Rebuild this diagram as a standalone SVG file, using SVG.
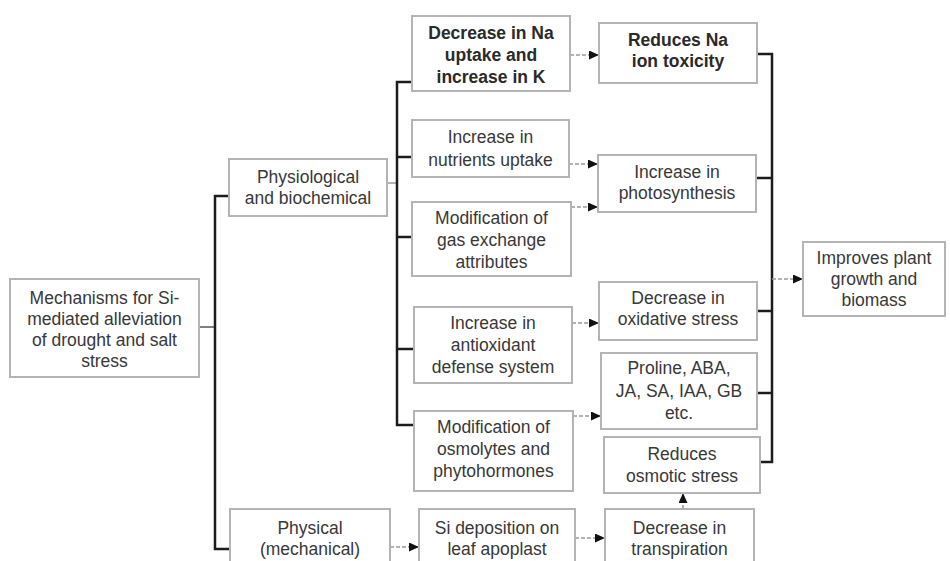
<svg xmlns="http://www.w3.org/2000/svg" width="950" height="561" viewBox="0 0 950 561">
<style>
.box{fill:#fff;stroke:#b4b4b4;stroke-width:2}
.t{font-family:"Liberation Sans",Arial,sans-serif;font-size:17.5px;fill:#383838;text-anchor:middle}
.b{font-weight:bold;fill:#2a2a2a}
.trunk{fill:none;stroke:#1c1c1c;stroke-width:2.5}
.thin{fill:none;stroke:#555;stroke-width:1.5}
.arr{fill:none;stroke:#9a9a9a;stroke-width:1.6;stroke-dasharray:4 2;marker-end:url(#ah)}
</style>
<defs>
<marker id="ah" markerUnits="userSpaceOnUse" markerWidth="11" markerHeight="10" refX="10" refY="4.5" orient="auto">
<path d="M0,0 L10,4.5 L0,9 z" fill="#111"/>
</marker>
</defs>
<rect width="950" height="561" fill="#fff"/>

<g id="connectors">
<line class="thin" x1="199" y1="327" x2="215" y2="327"/>
<path class="trunk" d="M229,196 H215 V549 H230"/>
<line class="thin" x1="387" y1="183" x2="397" y2="183" style="stroke:#999"/>
<path class="trunk" d="M412,82 H397 V425 H414"/>
<line class="trunk" x1="397" y1="157" x2="412" y2="157"/>
<line class="trunk" x1="397" y1="237" x2="412" y2="237"/>
<line class="trunk" x1="397" y1="349" x2="414" y2="349"/>
<path class="trunk" d="M757,54 H772 V462 H760"/>
<line class="trunk" x1="756" y1="178" x2="772" y2="178"/>
<line class="trunk" x1="757" y1="311" x2="772" y2="311"/>
<line class="trunk" x1="757" y1="393" x2="772" y2="393"/>
<line class="arr" x1="570" y1="55" x2="599" y2="55"/>
<line class="arr" x1="569" y1="164" x2="598" y2="164"/>
<line class="arr" x1="571" y1="207" x2="598" y2="207"/>
<line class="arr" x1="572" y1="323" x2="599" y2="323"/>
<line class="arr" x1="573" y1="416" x2="601" y2="416"/>
<line class="arr" x1="390" y1="547" x2="419" y2="547"/>
<line class="arr" x1="575" y1="538" x2="605" y2="538"/>
<line class="arr" x1="683" y1="509" x2="683" y2="493"/>
<line class="arr" x1="772" y1="279" x2="803" y2="279"/>
</g>

<g id="n_mech">
<rect class="box" x="10" y="279" width="189" height="98"/>
<text class="t" x="104.5" y="304">Mechanisms for Si-</text>
<text class="t" x="104.5" y="325">mediated alleviation</text>
<text class="t" x="104.5" y="346">of drought and salt</text>
<text class="t" x="104.5" y="367">stress</text>
</g>

<g id="n_phys">
<rect class="box" x="229" y="159" width="158" height="57"/>
<text class="t" x="308" y="183">Physiological</text>
<text class="t" x="308" y="204">and biochemical</text>
</g>

<g id="n_physical">
<rect class="box" x="230" y="509" width="160" height="60"/>
<text class="t" x="310" y="534">Physical</text>
<text class="t" x="310" y="555">(mechanical)</text>
</g>

<g id="n_si">
<rect class="box" x="419" y="509" width="156" height="60"/>
<text class="t" x="497" y="534">Si deposition on</text>
<text class="t" x="497" y="555">leaf apoplast</text>
</g>

<g id="n_transp">
<rect class="box" x="605" y="509" width="149" height="60"/>
<text class="t" x="679.5" y="534">Decrease in</text>
<text class="t" x="679.5" y="555">transpiration</text>
</g>

<g id="n_decNa">
<rect class="box" x="412" y="16" width="158" height="75"/>
<text class="t b" x="491" y="39">Decrease in Na</text>
<text class="t b" x="491" y="61">uptake and</text>
<text class="t b" x="491" y="83">increase in K</text>
</g>

<g id="n_redNa">
<rect class="box" x="599" y="23" width="158" height="60"/>
<text class="t b" x="678" y="46">Reduces Na</text>
<text class="t b" x="678" y="67">ion toxicity</text>
</g>

<g id="n_nutr">
<rect class="box" x="412" y="120" width="157" height="57"/>
<text class="t" x="490.5" y="143">Increase in</text>
<text class="t" x="490.5" y="166">nutrients uptake</text>
</g>

<g id="n_photo">
<rect class="box" x="598" y="155" width="158" height="57"/>
<text class="t" x="677" y="178">Increase in</text>
<text class="t" x="677" y="199">photosynthesis</text>
</g>

<g id="n_gas">
<rect class="box" x="412" y="202" width="159" height="74"/>
<text class="t" x="491.5" y="224">Modification of</text>
<text class="t" x="491.5" y="246">gas exchange</text>
<text class="t" x="491.5" y="268">attributes</text>
</g>

<g id="n_ox">
<rect class="box" x="599" y="282" width="158" height="58"/>
<text class="t" x="678" y="304">Decrease in</text>
<text class="t" x="678" y="325">oxidative stress</text>
</g>

<g id="n_improve">
<rect class="box" x="803" y="242" width="142" height="74"/>
<text class="t" x="874" y="264">Improves plant</text>
<text class="t" x="874" y="285">growth and</text>
<text class="t" x="874" y="306">biomass</text>
</g>

<g id="n_antiox">
<rect class="box" x="414" y="307" width="158" height="76"/>
<text class="t" x="493" y="329">Increase in</text>
<text class="t" x="493" y="351">antioxidant</text>
<text class="t" x="493" y="373">defense system</text>
</g>

<g id="n_proline">
<rect class="box" x="601" y="353" width="156" height="76"/>
<text class="t" x="679" y="374">Proline, ABA,</text>
<text class="t" x="679" y="397">JA, SA, IAA, GB</text>
<text class="t" x="679" y="419">etc.</text>
</g>

<g id="n_osmo">
<rect class="box" x="414" y="411" width="159" height="80"/>
<text class="t" x="493.5" y="433">Modification of</text>
<text class="t" x="493.5" y="455">osmolytes and</text>
<text class="t" x="493.5" y="477">phytohormones</text>
</g>

<g id="n_redosm">
<rect class="box" x="604" y="437" width="156" height="56"/>
<text class="t" x="682" y="460">Reduces</text>
<text class="t" x="682" y="482">osmotic stress</text>
</g>
</svg>
